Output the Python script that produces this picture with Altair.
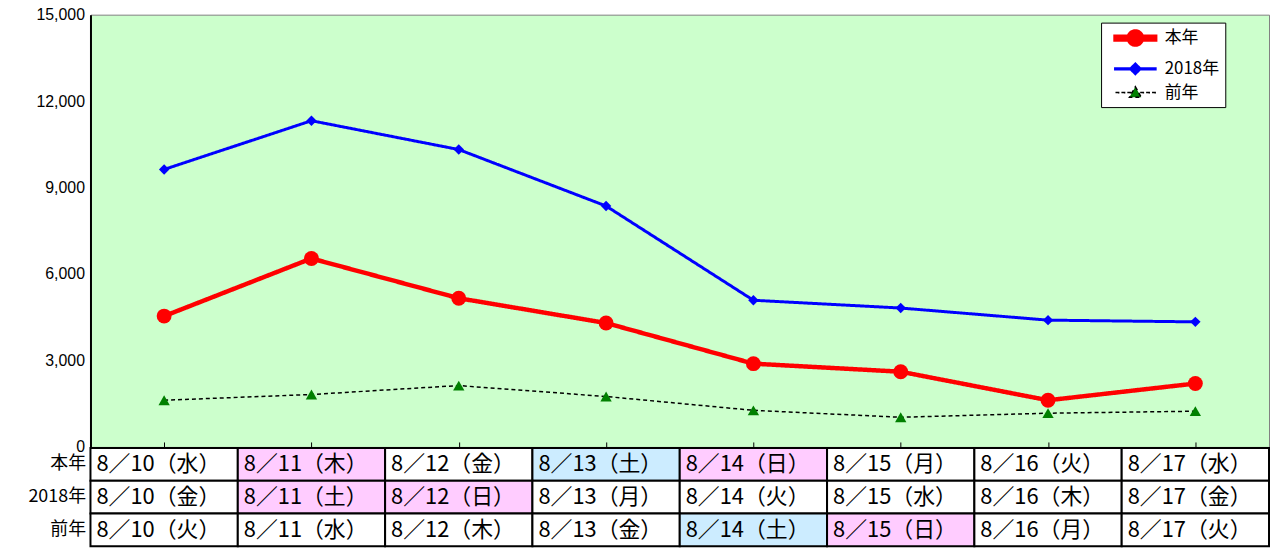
import altair as alt
import pandas as pd

# ---- data ----
dates = ["8/10", "8/11", "8/12", "8/13", "8/14", "8/15", "8/16", "8/17"]
series_names = ["本年", "2018年", "前年"]
honnen = [4540, 6540, 5160, 4300, 2890, 2610, 1620, 2200]
y2018 = [9630, 11320, 10320, 8360, 5090, 4820, 4400, 4340]
zennen = [1620, 1820, 2130, 1750, 1270, 1030, 1170, 1240]

days_honnen = ["水", "木", "金", "土", "日", "月", "火", "水"]
days_2018 = ["金", "土", "日", "月", "火", "水", "木", "金"]
days_zennen = ["火", "水", "木", "金", "土", "日", "月", "火"]

kind_honnen = ["平日", "休日", "平日", "土曜", "休日", "平日", "平日", "平日"]
kind_2018 = ["平日", "休日", "休日", "平日", "平日", "平日", "平日", "平日"]
kind_zennen = ["平日", "平日", "平日", "平日", "土曜", "休日", "平日", "平日"]

y_ticks = [0, 3000, 6000, 9000, 12000, 15000]

# ---- tables ----
rows = []
for name, vals in zip(series_names, [honnen, y2018, zennen]):
    for d, v in zip(dates, vals):
        rows.append({"date": d, "series": name, "value": v})
df = pd.DataFrame(rows)

trows = []
for name, days, kinds in zip(series_names, [days_honnen, days_2018, days_zennen],
                             [kind_honnen, kind_2018, kind_zennen]):
    for d, w, k in zip(dates, days, kinds):
        trows.append({"date": d, "row": name,
                      "label": d.replace("/", "／") + "（" + w + "）", "kind": k})
dft = pd.DataFrame(trows)

W = 1186
H = 435
JP = "Noto Sans CJK JP"

x_enc = alt.X("date:N",
              scale=alt.Scale(type="point", domain=dates, padding=0.5),
              axis=alt.Axis(labels=False, domain=False, ticks=True, tickSize=5,
                            tickColor="black", offset=-5, title=None, grid=False,
                            minExtent=0, maxExtent=0))
y_enc = alt.Y("value:Q",
              scale=alt.Scale(domain=[0, 15000], nice=False),
              axis=alt.Axis(values=y_ticks, format=",",
                            labelExpr="format(datum.value, ',')",
                            title=None, grid=False,
                            ticks=False, domainColor="black", domainWidth=2,
                            labelPadding=6, minExtent=82, maxExtent=82))

stroke_scale = alt.Scale(domain=series_names, range=["#FF0000", "#0000FF", "#000000"])
sw_scale = alt.Scale(domain=series_names, range=[4.5, 1.5, 1])
dash_scale = alt.Scale(domain=series_names, range=[[1, 0], [1, 0], [4, 3]])

# legend: one colour+shape legend whose symbols draw a line segment and a marker
p_honnen = ("M-2.85,-0.2L2.85,-0.2L2.85,0.2L-2.85,0.2Z"
            "M0.95,0A0.95,0.95,0,1,1,-0.95,0A0.95,0.95,0,1,1,0.95,0Z")
p_2018 = ("M-2.85,-0.01L2.85,-0.01L2.85,0.01L-2.85,0.01Z"
          "M0,-0.68L0.68,0L0,0.68L-0.68,0Z")
dash_segs = [(-2.85, -2.4), (-2.0, -1.55), (-1.15, -0.7), (0.7, 1.15), (1.55, 2.0), (2.4, 2.85)]
p_zennen = "".join(f"M{a},-0.01L{b},-0.01L{b},0.01L{a},0.01Z" for a, b in dash_segs) + \
    "M0,-0.85L0.85,0.65L-0.85,0.65Z"

leg = alt.Legend(title=None, orient="none", legendX=1017, legendY=8,
                 fillColor="white", strokeColor="black", padding=6,
                 labelFont=JP, labelFontSize=17, labelColor="black",
                 symbolSize=196, symbolOffset=19, labelOffset=20,
                 symbolStrokeWidth=1, rowPadding=3, symbolOpacity=1)
legend_layer = alt.Chart(df).mark_point(filled=True).encode(
    x=x_enc, y=y_enc,
    shape=alt.Shape("series:N", scale=alt.Scale(domain=series_names,
                                                range=[p_honnen, p_2018, p_zennen]),
                    legend=leg),
    color=alt.Color("series:N", scale=alt.Scale(domain=series_names,
                                                range=["#FF0000", "#0000FF", "#008000"]),
                    legend=leg),
    opacity=alt.value(0),
)

lines = alt.Chart(df).mark_line().encode(
    x=x_enc, y=y_enc,
    stroke=alt.Stroke("series:N", scale=stroke_scale, legend=None),
    strokeWidth=alt.StrokeWidth("series:N", scale=sw_scale, legend=None),
    strokeDash=alt.StrokeDash("series:N", scale=dash_scale, legend=None),
)

point_styles = [("本年", "circle", 225, "#FF0000"),
                ("2018年", "diamond", 110, "#0000FF"),
                ("前年", "triangle-up", 130, "#008000")]
point_layers = []
for name, shape, size, col in point_styles:
    point_layers.append(
        alt.Chart(df).transform_filter(alt.datum.series == name)
        .mark_point(filled=True, shape=shape, size=size, color=col, opacity=1)
        .encode(x=x_enc, y=y_enc)
    )

top = alt.layer(legend_layer, lines, *point_layers).properties(
    width=W, height=H,
    view=alt.ViewBackground(fill="#CCFFCC", stroke="#808080", strokeWidth=1),
)

# ---- date table ----
t_x = alt.X("date:N", scale=alt.Scale(domain=dates, paddingInner=0, paddingOuter=0),
            axis=None)
t_y = alt.Y("row:N", scale=alt.Scale(domain=series_names, paddingInner=0, paddingOuter=0),
            axis=alt.Axis(title=None, domain=False, ticks=False, labelPadding=5,
                          minExtent=82, maxExtent=82))
rect = alt.Chart(dft).mark_rect(stroke="black", strokeWidth=2).encode(
    x=t_x, y=t_y,
    fill=alt.Fill("kind:N", scale=alt.Scale(domain=["平日", "休日", "土曜"],
                                            range=["#FFFFFF", "#FFCCFF", "#CCECFF"]),
                  legend=None),
)
text = alt.Chart(dft).mark_text(align="left", baseline="middle", dx=6, fontSize=22,
                                font=JP, color="black").encode(
    x=alt.X("date:N", bandPosition=0, scale=alt.Scale(domain=dates, paddingInner=0,
                                                     paddingOuter=0), axis=None),
    y=t_y,
    text="label:N",
)
table = alt.layer(rect, text).properties(
    width=W, height=99, view=alt.ViewBackground(stroke=None)
)

chart = alt.vconcat(top, table, spacing=1, bounds="flush").resolve_scale(
    color="independent", fill="independent", stroke="independent",
    shape="independent", strokeWidth="independent", strokeDash="independent",
    x="independent", y="independent"
).resolve_legend(color="independent", shape="independent").properties(
    padding={"left": 0, "top": -4, "right": 0, "bottom": 0}
).configure(background="white").configure_axisQuantitative(
    labelFont="Liberation Sans", labelFontSize=16, labelColor="black"
).configure_axisBand(
    labelFont=JP, labelFontSize=18, labelColor="black"
)

chart.save("out.html", embed_options={"renderer": "svg", "actions": False})
